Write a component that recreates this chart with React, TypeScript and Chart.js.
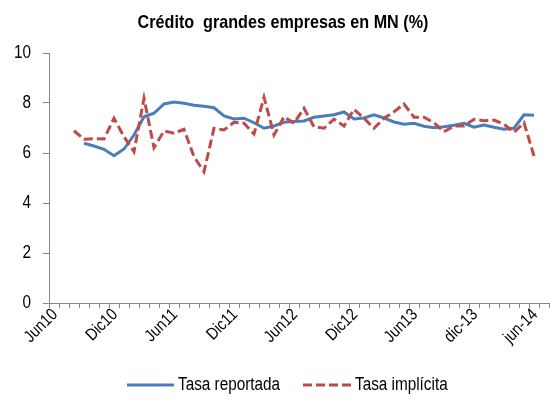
import { useEffect, useRef } from "react";
import { Chart, registerables } from "chart.js";
Chart.register(...registerables);

const categories = [
  "Jun10", "Jul10", "Ago10", "Sep10", "Oct10", "Nov10",
  "Dic10", "Ene11", "Feb11", "Mar11", "Abr11", "May11",
  "Jun11", "Jul11", "Ago11", "Sep11", "Oct11", "Nov11",
  "Dic11", "Ene12", "Feb12", "Mar12", "Abr12", "May12",
  "Jun12", "Jul12", "Ago12", "Sep12", "Oct12", "Nov12",
  "Dic12", "Ene13", "Feb13", "Mar13", "Abr13", "May13",
  "Jun13", "jul-13", "ago-13", "sep-13", "oct-13", "nov-13",
  "dic-13", "ene-14", "feb-14", "mar-14", "abr-14", "may-14",
  "jun-14", "jul-14",
];

const tasaReportada = [
  null, null, null, 6.39, 6.28, 6.15,
  5.89, 6.16, 6.72, 7.45, 7.59, 7.96,
  8.04, 7.99, 7.91, 7.87, 7.81, 7.48,
  7.36, 7.39, 7.21, 6.99, 7.08, 7.23,
  7.26, 7.28, 7.43, 7.48, 7.53, 7.64,
  7.36, 7.4, 7.53, 7.4, 7.24, 7.15,
  7.19, 7.07, 7.01, 7.05, 7.11, 7.19,
  7.03, 7.12, 7.03, 6.95, 6.99, 7.53,
  7.51, null,
];

const tasaImplicita = [
  null, null, 6.89, 6.55, 6.57, 6.56,
  7.39, 6.65, 6.05, 8.19, 6.21, 6.88,
  6.79, 6.95, 5.85, 5.25, 6.99, 6.92,
  7.23, 7.19, 6.76, 8.23, 6.72, 7.45,
  7.19, 7.79, 7.05, 6.99, 7.35, 7.08,
  7.75, 7.39, 6.99, 7.39, 7.65, 7.96,
  7.43, 7.43, 7.21, 6.85, 7.08, 7.08,
  7.35, 7.29, 7.32, 7.15, 6.83, 7.21,
  5.88, null,
];

const yTicks = [0, 2, 4, 6, 8, 10];
const title = "Crédito  grandes empresas en MN (%)";
const seriesNames = ["Tasa reportada", "Tasa implícita"];
const BLUE = "#4A7EBB";
const RED = "#BE4B48";
const AXIS = "#868686";
const FONT = "'Liberation Sans', Arial, sans-serif";
const NARROW = 0.85;

function drawText(
  ctx: CanvasRenderingContext2D,
  text: string,
  x: number,
  y: number,
  font: string,
  align: CanvasTextAlign,
  baseline: CanvasTextBaseline,
  rot = 0
) {
  ctx.save();
  ctx.translate(x, y);
  if (rot) ctx.rotate(rot);
  ctx.scale(NARROW, 1);
  ctx.font = font;
  ctx.textAlign = align;
  ctx.textBaseline = baseline;
  ctx.fillStyle = "#000";
  ctx.fillText(text, 0, 0);
  ctx.restore();
}

export default function App() {
  const ref = useRef<HTMLCanvasElement | null>(null);
  useEffect(() => {
    if (!ref.current) return;
    const overlay = {
      id: "overlay",
      afterDraw(chart: any) {
        const ctx = chart.ctx as CanvasRenderingContext2D;
        const xs = chart.scales.x;
        const ys = chart.scales.y;
        drawText(ctx, title, 283, 23, `bold 19px ${FONT}`, "center", "middle");
        // y tick labels
        yTicks.forEach((v) => {
          drawText(ctx, String(v), 31, ys.getPixelForValue(v), `18px ${FONT}`, "right", "middle");
        });
        // x tick labels
        categories.forEach((c, i) => {
          if (i % 6 !== 0) return;
          const px = xs.getPixelForValue(i);
          drawText(ctx, c, px - 5, ys.bottom + 3, `17px ${FONT}`, "right", "top", -Math.PI / 4);
        });
        // legend
        ctx.save();
        const ly = 385;
        ctx.lineWidth = 3;
        ctx.strokeStyle = BLUE;
        ctx.setLineDash([]);
        ctx.beginPath();
        ctx.moveTo(127, ly);
        ctx.lineTo(174, ly);
        ctx.stroke();
        ctx.strokeStyle = RED;
        ctx.setLineDash([9, 4]);
        ctx.beginPath();
        ctx.moveTo(303, ly);
        ctx.lineTo(352, ly);
        ctx.stroke();
        ctx.restore();
        drawText(ctx, seriesNames[0], 178, ly, `18px ${FONT}`, "left", "middle");
        drawText(ctx, seriesNames[1], 355, ly, `18px ${FONT}`, "left", "middle");
      },
    };
    const chart = new Chart(ref.current, {
      type: "line",
      data: {
        labels: categories,
        datasets: [
          {
            label: seriesNames[1],
            data: tasaImplicita,
            borderColor: RED,
            borderWidth: 3,
            borderDash: [9, 4],
            pointRadius: 0,
            tension: 0,
            fill: false,
          },
          {
            label: seriesNames[0],
            data: tasaReportada,
            borderColor: BLUE,
            borderWidth: 3,
            pointRadius: 0,
            tension: 0,
            fill: false,
          },
        ],
      },
      options: {
        animation: false,
        responsive: false,
        maintainAspectRatio: false,
        layout: { padding: { top: 53, left: 0, right: 1, bottom: 0 } },
        plugins: {
          legend: { display: false },
          title: { display: false },
          tooltip: { enabled: false },
        },
        scales: {
          x: {
            type: "category",
            offset: true,
            grid: {
              display: true,
              drawOnChartArea: false,
              drawTicks: true,
              tickLength: 5,
              color: AXIS,
              offset: true,
            },
            border: { color: AXIS, width: 1 },
            ticks: { display: false, autoSkip: false },
            afterFit: (s: any) => {
              s.height = 102;
              s.paddingLeft = 0;
              s.paddingRight = 0;
            },
          },
          y: {
            min: 0,
            max: 10,
            grid: {
              display: true,
              drawOnChartArea: false,
              drawTicks: true,
              tickLength: 6,
              color: AXIS,
            },
            border: { color: AXIS, width: 1 },
            ticks: { display: false, stepSize: 2 },
            afterFit: (s: any) => {
              s.width = 49;
              s.paddingTop = 0;
              s.paddingBottom = 0;
            },
          },
        },
      },
      plugins: [overlay],
    });
    return () => chart.destroy();
  }, []);
  return (
    <div style={{ position: "fixed", left: 0, top: 0, width: 550, height: 405, background: "#fff" }}>
      <canvas ref={ref} width={550} height={405} style={{ width: 550, height: 405 }} />
    </div>
  );
}
